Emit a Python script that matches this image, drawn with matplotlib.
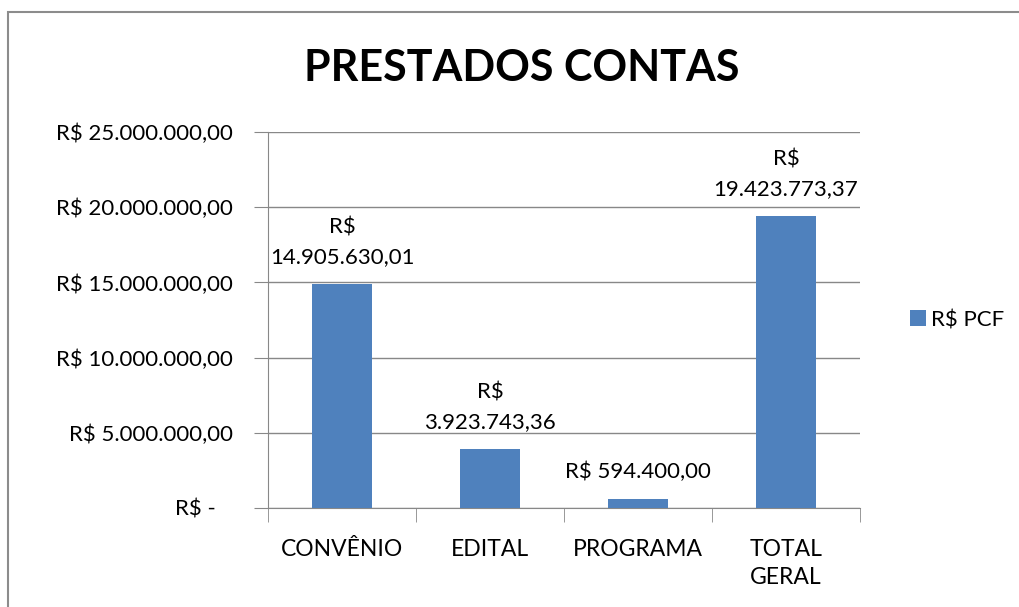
import matplotlib
matplotlib.use("Agg")
import matplotlib.pyplot as plt
from matplotlib.patches import Rectangle
import numpy as np

categories = ["CONVÊNIO", "EDITAL", "PROGRAMA", "TOTAL\nGERAL"]
values = [14905630.01, 3923743.36, 594400.00, 19423773.37]
series_name = "R$ PCF"
title = "PRESTADOS CONTAS"
yticks = [0, 5e6, 10e6, 15e6, 20e6, 25e6]

plt.rcParams['font.family'] = ['Lato', 'DejaVu Sans']

def brl(v):
    s = f"{v:,.2f}"
    return s.replace(",", "X").replace(".", ",").replace("X", ".")

def ylab(v):
    return "R$ -   " if v == 0 else "R$ " + brl(v)

fig = plt.figure(figsize=(10.2, 6.07), dpi=100)
fig.patches.append(Rectangle((8/1020, -0.1), 1.2, 1 - 12/607 + 0.1,
                             transform=fig.transFigure, fill=False,
                             edgecolor="#8c8c8c", linewidth=1.5))

ax = fig.add_axes([268/1020, 1 - 508/607, 592/1020, 376/607])
x = np.arange(len(categories))
color = "#4f81bd"
bars = ax.bar(x, values, width=0.4, color=color, label=series_name, zorder=3)

ax.set_xlim(-0.5, len(categories) - 0.5)
ax.set_ylim(0, 25e6)
ax.set_yticks(yticks)
ax.set_yticklabels([ylab(v) for v in yticks], fontsize=16)
ax.yaxis.grid(True, color="#888888", linewidth=1, zorder=0)
ax.set_xticks(x)
ax.set_xticklabels(categories, fontsize=16.5, linespacing=1.45, va="top")
ax.set_xticks(np.arange(-0.5, len(categories)), minor=True)
ax.tick_params(axis="x", which="major", length=0, pad=22)
ax.tick_params(axis="x", which="minor", length=10, color="#888888")
ax.tick_params(axis="y", length=10, color="#888888", pad=15)
for side in ["top", "right"]:
    ax.spines[side].set_visible(False)
for side in ["left", "bottom"]:
    ax.spines[side].set_color("#888888")

for xi, v in zip(x, values):
    if v < 1e6:
        lab = "R$ " + brl(v)
    else:
        lab = "R$\n" + brl(v)
    ax.annotate(lab, (xi, v), xytext=(0, 12), textcoords="offset points",
                ha="center", va="bottom", fontsize=16, linespacing=1.6)

ax.legend(loc="center left", bbox_to_anchor=(622/592, 0.5), frameon=False,
          fontsize=16, handlelength=0.7, handleheight=0.7, handletextpad=0.25)

fig.text(522/1020, 1 - 68/607, title, ha="center", va="center",
         fontsize=31, fontweight="bold")

fig.savefig("out.png", dpi=100)
